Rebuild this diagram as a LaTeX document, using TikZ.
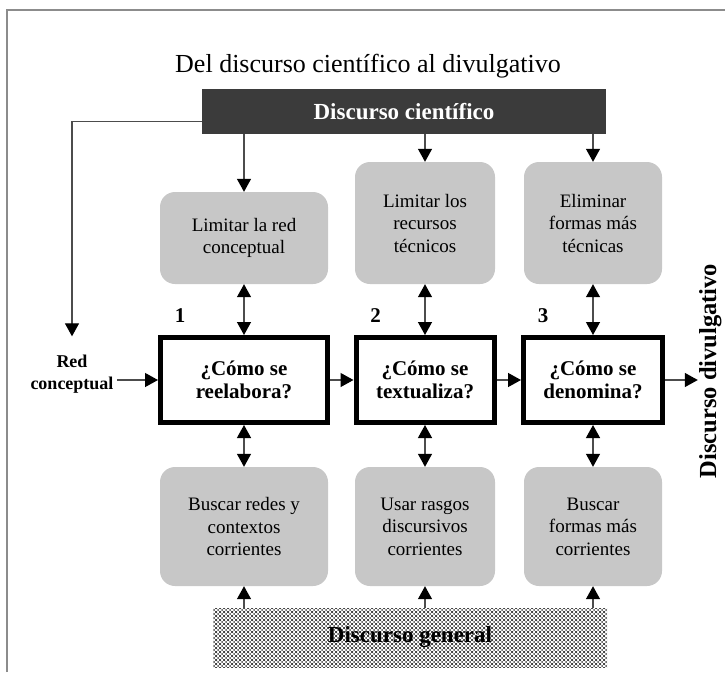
\documentclass[tikz,border=0pt]{standalone}
\usepackage{fontspec}
\setmainfont{Liberation Serif}
\usepackage{tikz}
\usetikzlibrary{positioning}
\usetikzlibrary{arrows.meta}
\usetikzlibrary{patterns}

\pgfdeclarepatternformonly{screendots}{\pgfpoint{-1.5pt}{-1.5pt}}{\pgfpoint{5.5pt}{5.5pt}}{\pgfpoint{4pt}{4pt}}{
  \pgfpathcircle{\pgfpoint{0pt}{0pt}}{1pt}
  \pgfpathcircle{\pgfpoint{2pt}{2pt}}{1pt}
  \pgfpathcircle{\pgfpoint{4pt}{0pt}}{1pt}
  \pgfpathcircle{\pgfpoint{0pt}{4pt}}{1pt}
  \pgfpathcircle{\pgfpoint{4pt}{4pt}}{1pt}
  \pgfusepath{fill}
}

\begin{document}
\begin{tikzpicture}[x=1pt, y=-1pt,
    softbox/.style={fill=black!22, rounded corners=15pt, align=center, inner sep=0pt, font=\fontsize{19}{22.5}\selectfont},
    askbox/.style={draw, line width=5pt, align=center, minimum height=85pt, font=\bfseries\fontsize{21}{23}\selectfont},
    num/.style={anchor=base, font=\bfseries\fontsize{21}{23}\selectfont},
    arr/.style={-{Triangle[length=13pt,width=14pt,color=black]}, line width=1.3pt, black!70},
    darr/.style={{Triangle[length=13pt,width=14pt,color=black]}-{Triangle[length=13pt,width=14pt,color=black]}, line width=1.3pt, black!70}]

                \useasboundingbox (0,0) rectangle (725,672);
                \draw[black!45, line width=2pt] (7,672) -- (7,10) -- (725,10);

                % Nodes
                \node at (368,72) (title) [anchor=base, font=\fontsize{26}{30}\selectfont] {Del discurso científico al divulgativo};
                \node at (404,111.5) (cient) [fill=black!77, text=white, minimum width=404pt, minimum height=45pt, font=\bfseries\fontsize{23}{26}\selectfont] {Discurso científico};

                \node at (244,238) (limA) [softbox, minimum width=168pt, minimum height=92pt] {Limitar la red\\conceptual};
                \node at (425,223) (limB) [softbox, minimum width=140pt, minimum height=122pt] {Limitar los\\recursos\\técnicos};
                \node at (593,223) (limC) [softbox, minimum width=138pt, minimum height=122pt] {Eliminar\\formas más\\técnicas};

                \node at (72,374) (red) [align=center, font=\bfseries\fontsize{18}{22}\selectfont] {Red\\conceptual};
                \node at (244,380) (reel) [askbox, minimum width=167pt] {¿Cómo se\\reelabora?};
                \node at (425,380) (textu) [askbox, minimum width=138pt] {¿Cómo se\\textualiza?};
                \node at (593,380) (deno) [askbox, minimum width=139pt] {¿Cómo se\\denomina?};
                \node at (716,371) (divul) [rotate=90, anchor=base, inner sep=1pt, font=\bfseries\fontsize{24.5}{28}\selectfont] {Discurso divulgativo};

                \node at ([xshift=22pt, yshift=13pt]reel.north west) (n1) [num] {1};
                \node at ([xshift=22pt, yshift=13pt]textu.north west) (n2) [num] {2};
                \node at ([xshift=22pt, yshift=13pt]deno.north west) (n3) [num] {3};

                \node at (244,526.5) (busA) [softbox, minimum width=168pt, minimum height=119pt] {Buscar redes y\\contextos\\corrientes};
                \node at (425,526.5) (usaB) [softbox, minimum width=140pt, minimum height=119pt] {Usar rasgos\\discursivos\\corrientes};
                \node at (593,526.5) (busC) [softbox, minimum width=138pt, minimum height=119pt] {Buscar\\formas más\\corrientes};

                \node at (410,637.5) (gen) [pattern=screendots, pattern color=black!75, minimum width=394pt, minimum height=59pt, font=\bfseries\fontsize{23}{26}\selectfont] {Discurso general};

                % Arrows
                \draw[arr, shorten >=15pt] ([yshift=-10pt]cient.west) -| (red.north);
                \draw[arr] (red.east |- reel.west) -- (reel.west);
                \draw[arr] (reel.east) -- (textu.west);
                \draw[arr] (textu.east) -- (deno.west);
                \draw[arr] (deno.east) -- (deno.east -| divul.north);

                \draw[arr] (cient.south -| limA.north) -- (limA.north);
                \draw[arr] (cient.south -| limB.north) -- (limB.north);
                \draw[arr] (cient.south -| limC.north) -- (limC.north);

                \draw[darr] (limA.south) -- (reel.north);
                \draw[darr] (limB.south) -- (textu.north);
                \draw[darr] (limC.south) -- (deno.north);

                \draw[darr] (reel.south) -- (busA.north);
                \draw[darr] (textu.south) -- (usaB.north);
                \draw[darr] (deno.south) -- (busC.north);

                \draw[arr] (gen.north -| busA.south) -- (busA.south);
                \draw[arr] (gen.north -| usaB.south) -- (usaB.south);
                \draw[arr] (gen.north -| busC.south) -- (busC.south);

\end{tikzpicture}
\end{document}
